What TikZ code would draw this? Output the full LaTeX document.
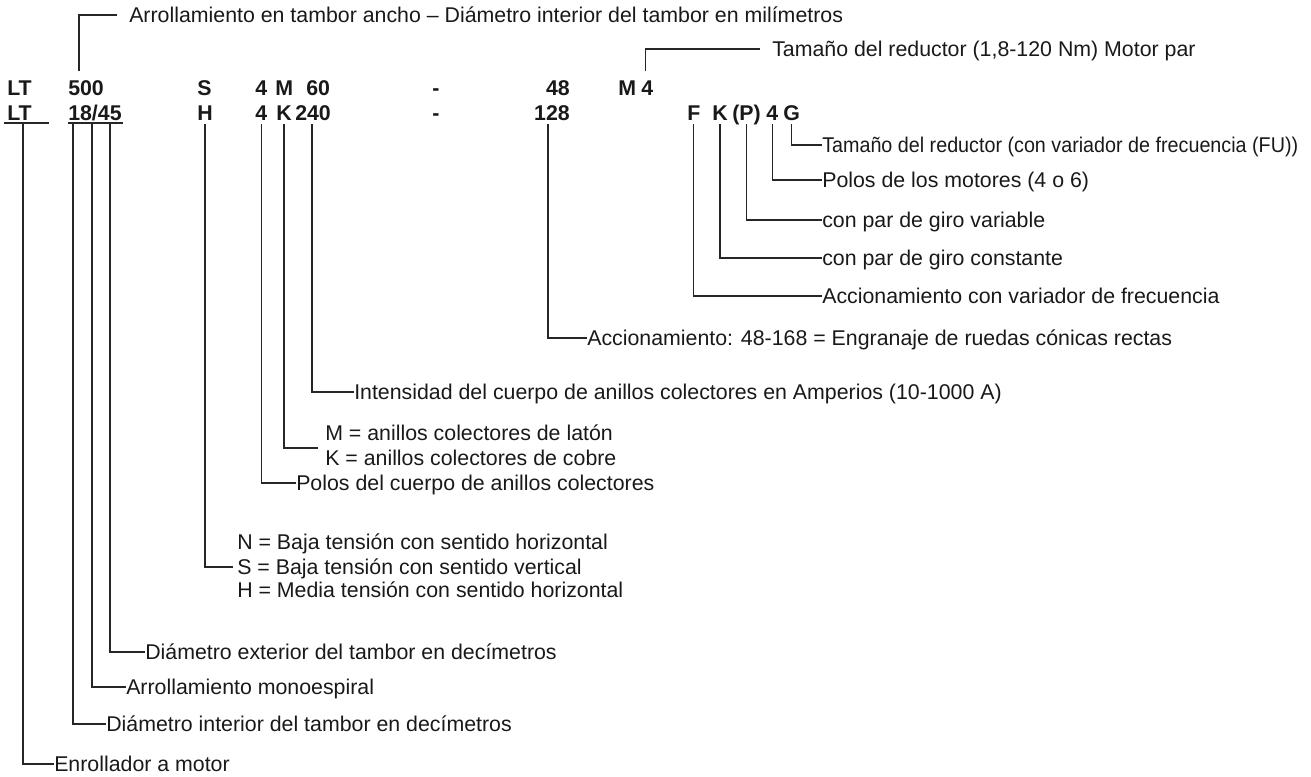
\documentclass[tikz,border=0pt]{standalone}
\usepackage{fontspec}
\setmainfont{Liberation Sans}
\usetikzlibrary{calc}
\begin{document}
\begin{tikzpicture}[x=0.75pt,y=-0.75pt,
    codetxt/.style={font=\fontsize{16}{19}\selectfont\bfseries,text=black!90,inner sep=0pt,text height=11.5pt,text depth=0pt,anchor=base west},
    expl/.style={font=\fontsize{16}{19}\selectfont,text=black!90,inner sep=0pt,text height=11.5pt,text depth=0pt,anchor=west},
    leader/.style={draw=black!85,line width=0.9pt,shorten <=3pt},
    uline/.style={draw=black!85,line width=0.9pt}]
    \useasboundingbox (0,0) rectangle (1311,776);

    % first code line
    \node[codetxt] (lt1) at (7,95) {LT};
    \node[codetxt] (c500) at (68,95) {500};
    \node[codetxt] (s1) at (197,95) {S};
    \node[codetxt] (c4a) at (255,95) {4};
    \node[codetxt] (cM) at (275,95) {M};
    \node[codetxt] (c60) at (306,95) {60};
    \node[codetxt] (dash1) at (432,95) {-};
    \node[codetxt,anchor=base east] (c48) at (570,95) {48};
    \node[codetxt] (cMm) at (618,95) {M};
    \node[codetxt] (c4m) at (641,95) {4};

    % second code line
    \node[codetxt] (lt2) at (7,120) {LT};
    \node[codetxt] (c1845) at (68,120) {18/45};
    \node[codetxt] (h2) at (197,120) {H};
    \node[codetxt] (c4b) at (255,120) {4};
    \node[codetxt] (cK) at (276,120) {K};
    \node[codetxt] (c240) at (295,120) {240};
    \node[codetxt] (dash2) at (432,120) {-};
    \node[codetxt,anchor=base east] (c128) at (570,120) {128};
    \node[codetxt] (f2) at (687,120) {F};
    \node[codetxt] (k2) at (712,120) {K};
    \node[codetxt] (p2) at (732,120) {(P)};
    \node[codetxt] (c4g) at (766,120) {4};
    \node[codetxt] (g2) at (783,120) {G};
    \draw[uline] ($(lt2.base west)+(-3,3)$) -- ++(45,0);
    \draw[uline] ($(c1845.base west)+(0,3)$) -- ++(55,0);

    % explanations
    \node[expl] (lTop) at (129,15) {Arrollamiento en tambor ancho – Diámetro interior del tambor en milímetros};
    \node[expl] (lTopR) at (772,49) {Tamaño del reductor (1,8-120 Nm) Motor par};
    \node[expl,xscale=0.925,transform shape] (lG) at (822,145) {Tamaño del reductor (con variador de frecuencia (FU))};
    \node[expl] (lMot) at (822,180) {Polos de los motores (4 o 6)};
    \node[expl] (lVar) at (822,220) {con par de giro variable};
    \node[expl] (lCon) at (822,258) {con par de giro constante};
    \node[expl] (lFU) at (822,296) {Accionamiento con variador de frecuencia};
    \node[expl] (l128) at (587,338) {Accionamiento: 48-168 = Engranaje de ruedas cónicas rectas};
    \node[expl] (l240) at (354,392) {Intensidad del cuerpo de anillos colectores en Amperios (10-1000 A)};
    \node[expl] (lM) at (325,433) {M = anillos colectores de latón};
    \node[expl] (lK) at (325,458) {K = anillos colectores de cobre};
    \node[expl] (lPolos) at (296,483) {Polos del cuerpo de anillos colectores};
    \node[expl] (lN) at (237,542) {N = Baja tensión con sentido horizontal};
    \node[expl] (lS) at (237,567) {S = Baja tensión con sentido vertical};
    \node[expl] (lH) at (237,590) {H = Media tensión con sentido horizontal};
    \node[expl] (l45) at (145,652) {Diámetro exterior del tambor en decímetros};
    \node[expl] (lSl) at (126,687) {Arrollamiento monoespiral};
    \node[expl] (l18) at (106,724) {Diámetro interior del tambor en decímetros};
    \node[expl] (lLT) at (54,764) {Enrollador a motor};
    \coordinate (eMK) at ($(lM.west)!0.6!(lK.west)+(-7,0)$);
    \coordinate (eS) at ($(lS.west)+(-4,0)$);

    % leaders
    \draw[leader,shorten <=6pt,shorten >=9pt] ($(c500.north west)+(11,0)$) |- (lTop.west);
    \draw[leader,shorten <=6pt,shorten >=9pt] ($(c4m.north)+(-2,0)$) |- (lTopR.west);
    \draw[leader] (g2.south) |- (lG.west);
    \draw[leader] (c4g.south) |- (lMot.west);
    \draw[leader] (p2.south) |- (lVar.west);
    \draw[leader] (k2.south) |- (lCon.west);
    \draw[leader] (f2.south) |- (lFU.west);
    \draw[leader] ($(c128.south)+(-4,0)$) |- (l128.west);
    \draw[leader] ($(c240.south)+(-1,0)$) |- (l240.west);
    \draw[leader] (cK.south) |- (eMK);
    \draw[leader] (c4b.south) |- (lPolos.west);
    \draw[leader] (h2.south) |- (eS);
    \draw[leader,shorten <=0pt] ($(c1845.base west)+(42,3)$) |- (l45.west);
    \draw[leader,shorten <=0pt] ($(c1845.base west)+(24,3)$) |- (lSl.west);
    \draw[leader,shorten <=0pt] ($(c1845.base west)+(5,3)$) |- (l18.west);
    \draw[leader,shorten <=0pt] ($(lt2.base west)+(16,3)$) |- (lLT.west);
\end{tikzpicture}
\end{document}
